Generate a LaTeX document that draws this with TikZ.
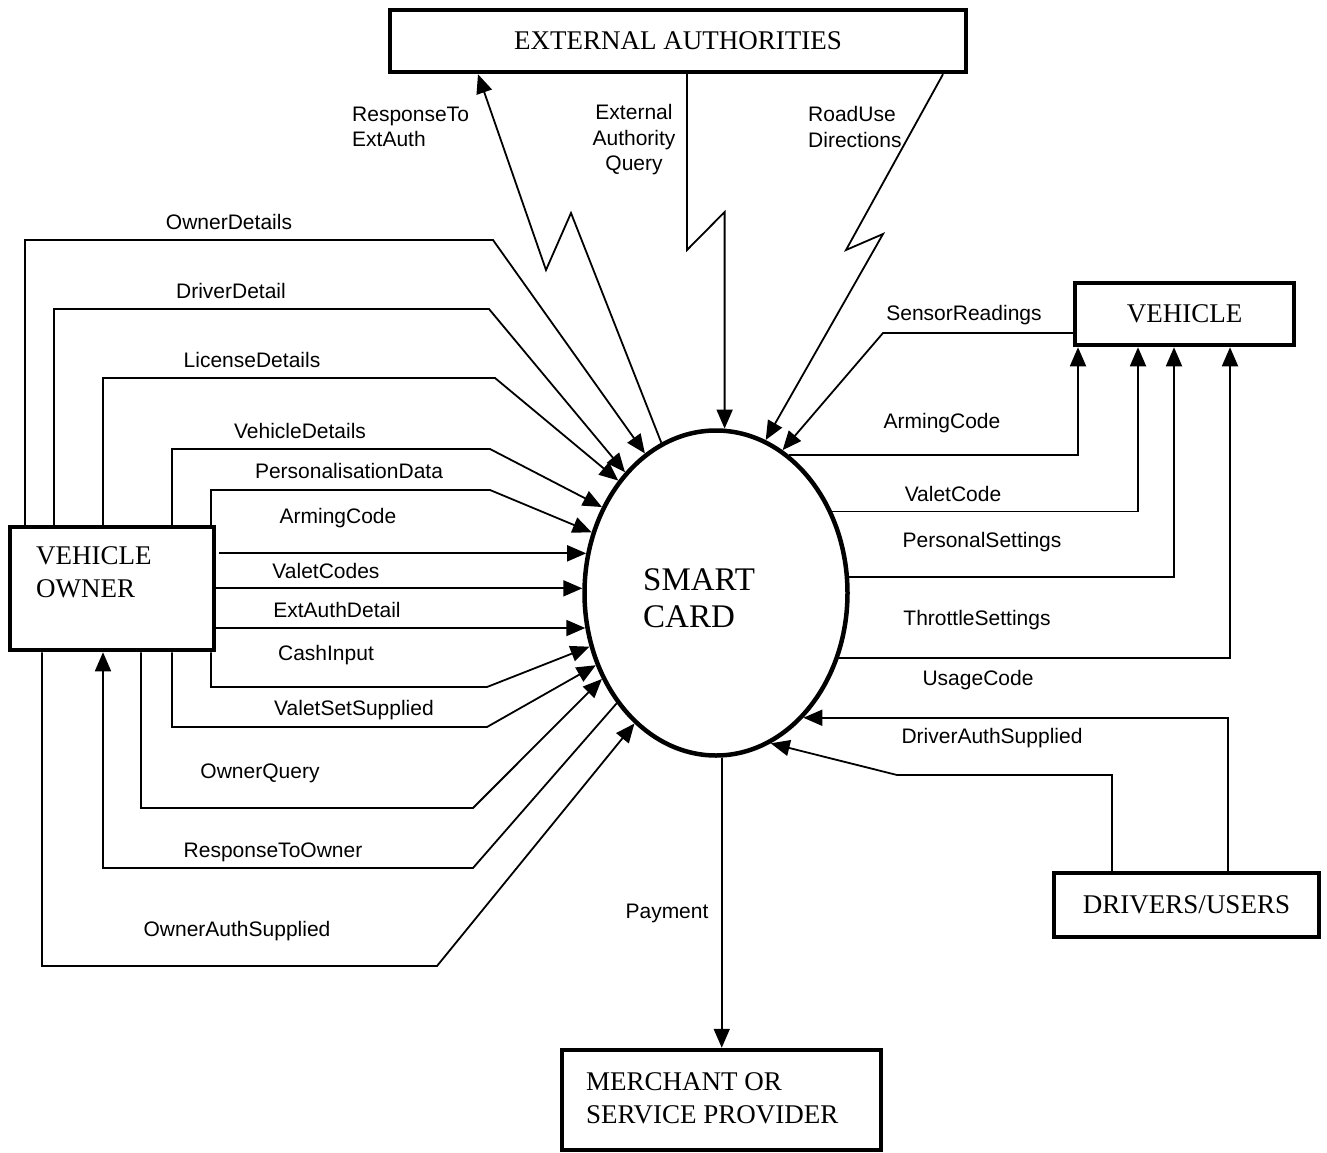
\documentclass[tikz,border=0pt]{standalone}
\usepackage{fontspec}
\setmainfont{Liberation Serif}
\setsansfont{Liberation Sans}
\usetikzlibrary{arrows.meta,shapes.geometric}
\begin{document}
\begin{tikzpicture}[x=1pt,y=-1pt,
  entity/.style={draw, line width=4.5pt, rectangle, inner sep=0pt,
    font=\fontsize{27}{33}\selectfont},
  etext/.style={inner sep=0pt, align=left, font=\fontsize{27}{33}\selectfont},
  flow/.style={line width=1.8pt, -{Triangle[length=19pt,width=16pt]}},
  lbl/.style={inner sep=0pt, font=\sffamily\fontsize{21}{25.5}\selectfont}]
\useasboundingbox (0,0) rectangle (1327,1153);
\fill[white] (0,0) rectangle (1327,1153);

% external entities
\node[entity, minimum width=576pt, minimum height=62pt] (ea) at (678,41) {EXTERNAL AUTHORITIES};
\node[entity, minimum width=219pt, minimum height=62pt] (veh) at (1184.5,314) {VEHICLE};
\node[entity, minimum width=204pt, minimum height=123pt] (owner) at (112,588.5) {};
\node[etext, anchor=west] (ownertxt) at (36,572) {VEHICLE\\OWNER};
\node[entity, minimum width=265pt, minimum height=64pt] (drv) at (1186.5,905) {DRIVERS/USERS};
\node[entity, minimum width=319pt, minimum height=100pt] (mer) at (721.5,1100) {};
\node[etext, anchor=west] (mertxt) at (586,1098) {MERCHANT OR\\SERVICE PROVIDER};

% the process
\node[draw, ellipse, line width=4.5pt, inner sep=0pt,
  minimum width=263pt, minimum height=325pt] (card) at (716,593) {};
\node[inner sep=0pt, align=left, font=\fontsize{33}{37}\selectfont, anchor=west]
  (cardtxt) at (643,598) {SMART\\CARD};

% vehicle owner -> smart card, routed over the top
\draw[flow] (25,0 |- owner.north) |- (493,240) -- (card.117);
\draw[flow] (54,0 |- owner.north) |- (489,309) -- (card.127);
\draw[flow] (103,0 |- owner.north) |- (495,378) -- (card.131);
\draw[flow] (172,0 |- owner.north) |- (490,449) -- (card.143);
\draw[flow] (211,0 |- owner.north) |- (490,490) -- (card.154);
% straight flows
\draw[flow] (219,0 |- card.163) -- (card.163);
\draw[flow] (owner.east |- card.178) -- (card.178);
\draw[flow] (owner.east |- card.195) -- (card.195);
% routed underneath
\draw[flow] (211,0 |- owner.south) |- (487,687) -- (card.203);
\draw[flow] (172,0 |- owner.south) |- (487,727) -- (card.211);
\draw[flow] (141,0 |- owner.south) |- (473,808) -- (card.217);
\draw[flow] (card.228) -- (473,868) -| (103,0 |- owner.south);
\draw[flow] (42,0 |- owner.south) |- (437,966) -- (card.238);

% external authorities (zig-zag links)
\draw[flow] (card.110) -- (571,213) -- (546,270) -- (478,0 |- ea.south);
\draw[flow] (687,0 |- ea.south) -- (687,250) -- (card.87 |- 0,212) -- (card.87);
\draw[flow] (943,0 |- ea.south) -- (846,250) -- (883,234) -- (card.72);

% vehicle
\draw[flow] (veh.west |- 0,333) -- (883,333) -- (card.65);
\draw[flow] (card.62) -| (1078,0 |- veh.south);
\draw[flow] (card.35) -| (1138,0 |- veh.south);
\draw[flow] (card.7) -| (1174,0 |- veh.south);
\draw[flow] (card.332) -| (1230,0 |- veh.south);

% drivers / users
\draw[flow] (1228,0 |- drv.north) |- (card.305);
\draw[flow] (1112,0 |- drv.north) |- (897,775) -- (card.290);

% merchant
\draw[flow] (card.272) -- (card.272 |- mer.north);

% flow labels
\node[lbl] (l1) at (229,222) {OwnerDetails};
\node[lbl] (l2) at (231,291) {DriverDetail};
\node[lbl] (l3) at (252,360) {LicenseDetails};
\node[lbl] (l4) at (300,431) {VehicleDetails};
\node[lbl] (l5) at (349,471) {PersonalisationData};
\node[lbl] (l6) at (338,518) {ArmingCode};
\node[lbl] (l7) at (326,571) {ValetCodes};
\node[lbl] (l8) at (337,610) {ExtAuthDetail};
\node[lbl] (l9) at (326,655) {CashInput};
\node[lbl] (l10) at (354,710) {ValetSetSupplied};
\node[lbl] (l11) at (260,773) {OwnerQuery};
\node[lbl] (l12) at (273,852) {ResponseToOwner};
\node[lbl] (l13) at (237,931) {OwnerAuthSupplied};
\node[lbl, align=left, anchor=west] (l14) at (352,127) {ResponseTo\\ExtAuth};
\node[lbl, align=center] (l15) at (634,140) {External\\Authority\\Query};
\node[lbl, align=left, anchor=west] (l16) at (808,127) {RoadUse\\Directions};
\node[lbl] (l17) at (964,315) {SensorReadings};
\node[lbl] (l18) at (942,423) {ArmingCode};
\node[lbl] (l19) at (953,494) {ValetCode};
\node[lbl] (l20) at (982,542) {PersonalSettings};
\node[lbl] (l21) at (977,620) {ThrottleSettings};
\node[lbl] (l22) at (978,680) {UsageCode};
\node[lbl] (l23) at (992,738) {DriverAuthSupplied};
\node[lbl] (l24) at (667,913) {Payment};
\end{tikzpicture}
\end{document}
